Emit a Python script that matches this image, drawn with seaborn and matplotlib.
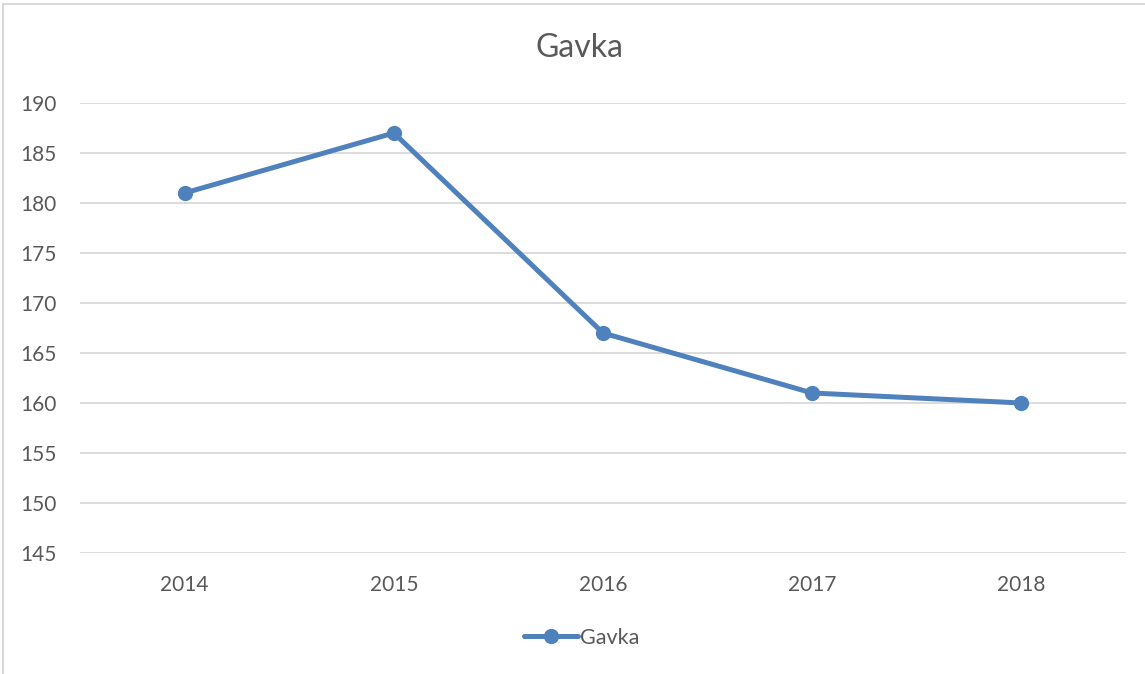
import matplotlib
matplotlib.use('Agg')
import matplotlib.pyplot as plt
import seaborn as sns
import pandas as pd
from matplotlib.lines import Line2D

years = ['2014', '2015', '2016', '2017', '2018']
gavka = [181, 187, 167, 161, 160]
y_ticks = [145, 150, 155, 160, 165, 170, 175, 180, 185, 190]

df = pd.DataFrame({'year': years, 'Gavka': gavka})

sns.set_style('white')
plt.rcParams['font.family'] = ['Lato', 'DejaVu Sans']

text_col = '#595959'
line_col = '#4F81BD'
grid_col = '#D9D9D9'

fig = plt.figure(figsize=(11.45, 6.74), dpi=100)
ax = fig.add_axes([80 / 1145, 1 - 553 / 674, 1046 / 1145, 450 / 674])

sns.lineplot(data=df, x='year', y='Gavka', sort=False, ax=ax, color=line_col,
             linewidth=3.6, marker='o', markersize=11, markeredgewidth=0,
             label='Gavka', legend=False, zorder=3)

ax.set_xlim(-0.5, 4.5)
ax.set_ylim(145, 190)
ax.set_yticks(y_ticks)
ax.set_xticks(range(len(years)))
ax.set_xticklabels(years)
ax.set_xlabel('')
ax.set_ylabel('')
ax.grid(axis='y', color=grid_col, linewidth=1.3)
ax.grid(axis='x', visible=False)
for s in ax.spines.values():
    s.set_visible(False)
ax.tick_params(axis='both', length=0, labelsize=15, labelcolor=text_col)
ax.tick_params(axis='y', pad=17)
ax.tick_params(axis='x', pad=16)

fig.text(579.5 / 1145, 1 - 48 / 674, 'Gavka', ha='center', va='center',
         fontsize=23, color=text_col)

handle = Line2D([], [], color=line_col, linewidth=3.6, marker='o', markersize=11,
                markeredgewidth=0)
fig.legend([handle], ['Gavka'], loc='center', bbox_to_anchor=(582 / 1145, 1 - 638 / 674),
           frameon=False, fontsize=15.5, labelcolor=text_col, handlelength=2.5,
           handletextpad=0.1)

# chart frame
fig.add_artist(Line2D([3 / 1145, 3 / 1145], [0, 1 - 4 / 674], color=grid_col,
                      linewidth=1.5, transform=fig.transFigure))
fig.add_artist(Line2D([3 / 1145, 1], [1 - 4 / 674, 1 - 4 / 674], color=grid_col,
                      linewidth=1.5, transform=fig.transFigure))

fig.savefig('out.png', dpi=100)
